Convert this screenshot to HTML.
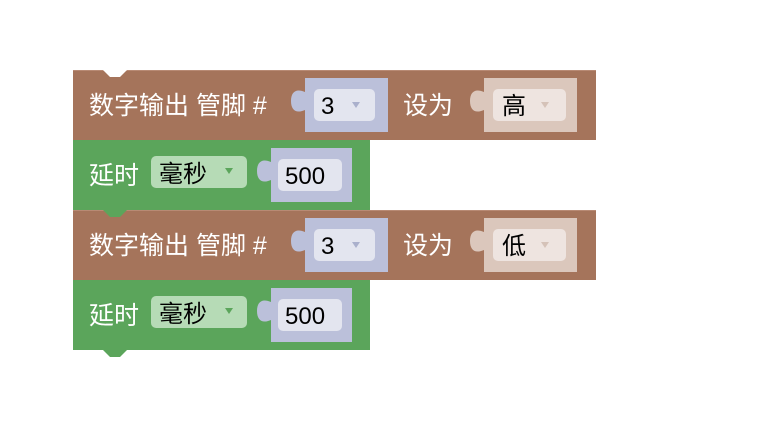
<!DOCTYPE html>
<html><head><meta charset="utf-8"><style>
html,body{margin:0;padding:0;background:#fff;width:777px;height:441px;overflow:hidden}
text{font-family:"Liberation Sans","Noto Sans CJK SC",sans-serif;font-size:24px}
.l{font-size:25px}
</style></head><body>
<svg width="777" height="441" xmlns="http://www.w3.org/2000/svg">
<defs>
<g id="brown">
  <rect x="73" y="0" width="523" height="70" fill="#a5745b"/>
  <line x1="73" y1="0.5" x2="596" y2="0.5" stroke="#b88a74"/>
  <path d="M305 8 H388 V62 H305 V40 C296 44 291 40 291 31 C291 22 296 18 305 22 Z" fill="#bbc0da"/>
  <rect x="314" y="19" width="61" height="32" rx="5" fill="#e3e5ef"/>
  <text x="321" y="44" fill="#000">3</text>
  <path d="M352 32 L360 32 L356 38 Z" fill="#aab0cc"/>
  <text class="l" x="89" y="44" fill="#fff">数字输出 管脚 #</text>
  <text class="l" x="403" y="44" fill="#fff">设为</text>
  <path d="M484 8 H577 V62 H484 V40 C475 44 470 40 470 31 C470 22 475 18 484 22 Z" fill="#dbc7bc"/>
  <rect x="493" y="19" width="73" height="32" rx="5" fill="#eee4e0"/>
  <path d="M541 32 L549 32 L545 38 Z" fill="#d5c2b8"/>
</g>
<g id="green">
  <rect x="73" y="0" width="297" height="70" fill="#5ba55b"/>
  <path d="M103 70 L110 77 L120 77 L127 70 Z" fill="#5ba55b"/>
  <text class="l" x="89" y="44" fill="#fff">延时</text>
  <rect x="151" y="16" width="96" height="32" rx="5" fill="#b6dbb6"/>
  <text x="159" y="42" fill="#000">毫秒</text>
  <path d="M225 28 L233 28 L229 34 Z" fill="#5ba55b"/>
  <path d="M271 8 H352 V62 H271 V40 C262 44 257 40 257 31 C257 22 262 18 271 22 Z" fill="#bbc0da"/>
  <rect x="278" y="19" width="64" height="32" rx="5" fill="#e3e5ef"/>
  <text x="285" y="44" fill="#000">500</text>
</g>
</defs>
<use href="#brown" transform="translate(0,70)"/>
<path d="M103 70 L110 77 L120 77 L127 70 Z" fill="#fff"/>
<use href="#brown" transform="translate(0,210)"/>
<use href="#green" transform="translate(0,140)"/>
<use href="#green" transform="translate(0,280)"/>
<text x="502" y="114" fill="#000">高</text>
<text x="502" y="254" fill="#000">低</text>
</svg>
</body></html>
